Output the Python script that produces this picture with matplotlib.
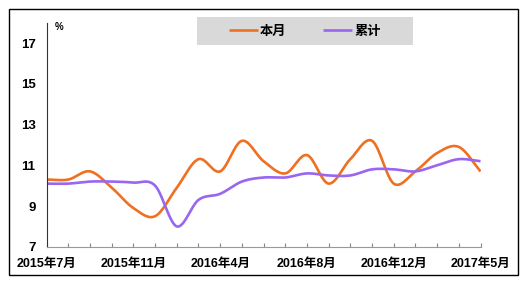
import numpy as np
import matplotlib
matplotlib.use("Agg")
import matplotlib.pyplot as plt
from matplotlib.patches import Rectangle

plt.rcParams['font.family'] = ['Liberation Sans', 'Noto Sans CJK SC', 'DejaVu Sans']

# data (%)
months = ["2015年7月", "2015年8月", "2015年9月", "2015年10月", "2015年11月", "2015年12月",
          "2016年2月", "2016年3月", "2016年4月", "2016年5月", "2016年6月", "2016年7月",
          "2016年8月", "2016年9月", "2016年10月", "2016年11月", "2016年12月",
          "2017年2月", "2017年3月", "2017年4月", "2017年5月"]
this_month = [10.3, 10.3, 10.7, 9.9, 8.9, 8.5, 9.9, 11.3, 10.7, 12.2, 11.2,
              10.6, 11.5, 10.1, 11.3, 12.2, 10.1, 10.7, 11.6, 11.9, 10.7]
cumulative = [10.1, 10.1, 10.2, 10.2, 10.15, 10.0, 8.0, 9.3, 9.6, 10.2, 10.4,
              10.4, 10.6, 10.5, 10.5, 10.8, 10.8, 10.7, 11.0, 11.3, 11.2]
label_every = 4
yticks = [7, 9, 11, 13, 15, 17]


def smooth(y, n=30):
    # catmull-rom curve through the points, like excel's smoothed line
    y = np.asarray(y, float)
    p = np.concatenate(([2 * y[0] - y[1]], y, [2 * y[-1] - y[-2]]))
    xs, ys = [], []
    for i in range(len(y) - 1):
        t = np.linspace(0, 1, n, endpoint=False)
        p0, p1, p2, p3 = p[i], p[i + 1], p[i + 2], p[i + 3]
        v = 0.5 * (2 * p1 + (-p0 + p2) * t + (2 * p0 - 5 * p1 + 4 * p2 - p3) * t ** 2
                   + (-p0 + 3 * p1 - 3 * p2 + p3) * t ** 3)
        xs.append(i + t)
        ys.append(v)
    xs.append([len(y) - 1])
    ys.append([y[-1]])
    return np.concatenate(xs), np.concatenate(ys)


fig = plt.figure(figsize=(5.24, 2.83), dpi=100)
ax = fig.add_axes([0.089, 0.128, 0.828, 0.792])

x = np.arange(len(months))
sx, sy = smooth(this_month)
ax.plot(sx, sy, color='#EE7020', lw=1.9, label='本月', solid_capstyle='butt')
sx, sy = smooth(cumulative)
ax.plot(sx, sy, color='#9966F0', lw=1.9, label='累计', solid_capstyle='butt')

ax.set_xlim(0, len(months) - 1)
ax.set_ylim(7, 18)
ax.set_xticks(x)
ax.set_xticklabels([m if i % label_every == 0 else '' for i, m in enumerate(months)],
                   fontsize=9, fontweight='bold')
ax.set_yticks(yticks)
ax.set_yticklabels([str(v) for v in yticks], fontsize=9.5, fontweight='bold')
ax.tick_params(axis='x', direction='in', length=3, color='#888888', pad=8)
ax.tick_params(axis='y', direction='in', length=0, pad=8)
for s in ['top', 'right']:
    ax.spines[s].set_visible(False)
ax.spines['left'].set_color('#333333')
ax.spines['bottom'].set_color('#999999')

fig.text(0.105, 0.895, '%', fontsize=7, fontweight='bold')

# grey legend box
fig.patches.append(Rectangle((0.375, 0.841), 0.413, 0.1, transform=fig.transFigure,
                             facecolor='#D9D9D9', edgecolor='none'))
fig.legend(loc='center', bbox_to_anchor=(0.5815, 0.891), ncol=2, frameon=False,
           handlelength=2.2, handletextpad=0.15, columnspacing=2.8,
           prop={'family': ['Noto Sans CJK SC'], 'weight': 'bold', 'size': 9.5})

fig.patches.append(Rectangle((0.0172, 0.028), 0.971, 0.94, transform=fig.transFigure,
                             fill=False, edgecolor='black', lw=1))

fig.savefig('out.png', dpi=100)
